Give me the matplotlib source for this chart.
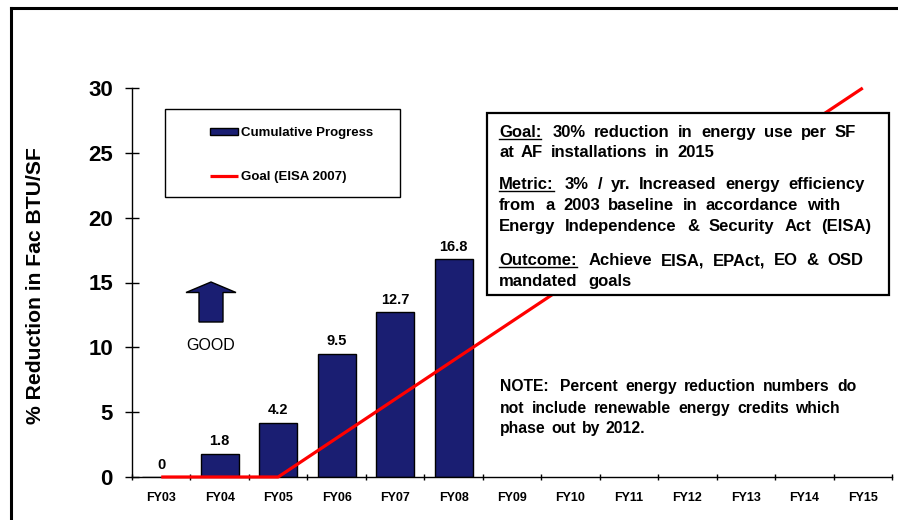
import matplotlib
matplotlib.use("Agg")
import matplotlib.pyplot as plt
from matplotlib.patches import Rectangle, Polygon
from matplotlib.lines import Line2D

plt.rcParams['font.family'] = 'Liberation Sans'

# ---- data ----
years = ["FY03", "FY04", "FY05", "FY06", "FY07", "FY08", "FY09",
         "FY10", "FY11", "FY12", "FY13", "FY14", "FY15"]
progress = [0, 1.8, 4.2, 9.5, 12.7, 16.8]
progress_labels = ["0", "1.8", "4.2", "9.5", "12.7", "16.8"]
goal = [0, 0, 0, 3, 6, 9, 12, 15, 18, 21, 24, 27, 30]
yticks = [0, 5, 10, 15, 20, 25, 30]

W, H = 898, 520
BAR_COLOR = "#1A1E72"
GOAL_COLOR = "#FF0000"

fig = plt.figure(figsize=(W / 100, H / 100), dpi=100)
fig.patch.set_facecolor("white")


def P(x, y):
    """page position in pixels (origin top-left) -> figure fraction"""
    return (x / W, 1 - y / H)


ax = fig.add_axes([132 / W, (H - 477) / H, (892 - 132) / W, (477 - 88) / H])
x = list(range(len(years)))

bars = ax.bar(x[:len(progress)], progress, width=0.65, color=BAR_COLOR,
              edgecolor="black", linewidth=1.0, label="Cumulative Progress", zorder=2)
line, = ax.plot(x, goal, color=GOAL_COLOR, linewidth=2.3, label="Goal (EISA 2007)",
                zorder=3, clip_on=False, solid_capstyle="butt")

for xi, v, lab in zip(x, progress, progress_labels):
    ax.annotate(lab, (xi, v), xytext=(0, 6), textcoords="offset points",
                ha="center", va="baseline", fontsize=10.5, fontweight="bold")

ax.set_xlim(-0.5, len(years) - 0.5)
ax.set_ylim(0, 30)
ax.set_yticks(yticks)
ax.set_yticklabels([str(v) for v in yticks], fontsize=16, fontweight="bold")
ax.tick_params(axis="y", direction="inout", length=9.4, width=1, pad=9)

ax.set_xticks([i - 0.5 for i in range(len(years) + 1)])
ax.set_xticklabels([])
ax.set_xticks(x, minor=True)
ax.set_xticklabels(years, minor=True, fontsize=9, fontweight="bold")
ax.tick_params(axis="x", which="major", direction="inout", length=5, width=1)
ax.tick_params(axis="x", which="minor", length=0, pad=11)

for s in ("top", "right"):
    ax.spines[s].set_visible(False)
for s in ("left", "bottom"):
    ax.spines[s].set_linewidth(1.0)

fig.text(*P(36, 286), "% Reduction in Fac BTU/SF", rotation=90, ha="center",
         va="center", fontsize=15.2, fontweight="bold")

# legend box
fig.add_artist(Rectangle(P(165, 197), (400 - 165) / W, (197 - 109) / H,
                         transform=fig.transFigure, facecolor="white",
                         edgecolor="black", linewidth=1.0, zorder=4))
leg = fig.legend(handles=[bars, line], loc="upper left",
                 bbox_to_anchor=P(210, 127), bbox_transform=fig.transFigure,
                 frameon=False, prop={"weight": "bold", "size": 9.5},
                 handlelength=2.1, handleheight=0.45, handletextpad=0.25,
                 borderpad=0, borderaxespad=0, labelspacing=2.4)
leg.set_zorder(5)

# goal / metric / outcome box
fig.add_artist(Rectangle(P(487, 295), (889 - 487) / W, (295 - 113) / H,
                         transform=fig.transFigure, facecolor="white",
                         edgecolor="black", linewidth=1.6, zorder=4))

renderer = fig.canvas.get_renderer()


def spread_line(words, x_left, x_right, y_base, size, underline_first=False,
                first_gap=1.0):
    """Lay out words on one baseline so the line runs from x_left to x_right."""
    texts = [fig.text(*P(x_left, y_base), w, fontsize=size, fontweight="bold",
                      va="baseline", ha="left", zorder=6) for w in words]
    widths = [t.get_window_extent(renderer).width for t in texts]
    weights = [first_gap] + [1.0] * (len(words) - 2)
    unit = (x_right - x_left - sum(widths)) / max(sum(weights), 1)
    cur = x_left
    for i, (t, w) in enumerate(zip(texts, widths)):
        t.set_x(round(cur) / W)
        if i == 0 and underline_first:
            fig.add_artist(Line2D([cur / W, (cur + w) / W],
                                  [1 - (y_base + 2) / H] * 2,
                                  transform=fig.transFigure, color="black",
                                  linewidth=1.0, zorder=6))
        if i < len(weights):
            cur += w + unit * weights[i]


box_lines = [
    ("Goal:", "30% reduction in energy use per SF", 856.5, 137),
    (None, "at AF installations in 2015", 714, 157),
    ("Metric:", "3% / yr. Increased energy efficiency", 864, 189),
    (None, "from a 2003 baseline in accordance with", 840.5, 210),
    (None, "Energy Independence & Security Act (EISA)", 871.5, 231),
    ("Outcome:", "Achieve EISA, EPAct, EO & OSD", 863, 265),
    (None, "mandated goals", 631.5, 286),
]
for head, rest, xr, yb in box_lines:
    words = ([head] if head else []) + rest.split()
    spread_line(words, 499, xr, yb, 12, underline_first=head is not None,
                first_gap=1.4 if head else 1.0)

note_lines = [
    ("NOTE:  Percent energy reduction numbers do", 856.5, 391, 1.5),
    ("not include renewable energy credits which", 840, 413, 1.0),
    ("phase out by 2012.", 645.5, 433, 1.0),
]
for txt, xr, yb, fg in note_lines:
    spread_line(txt.split(), 500, xr, yb, 11.3, first_gap=fg)

# "GOOD" arrow
arrow_pts = [(211, 282), (236, 292.5), (223, 292.5), (223, 322), (199, 322),
             (199, 292.5), (186, 292.5)]
fig.add_artist(Polygon([P(a, b) for a, b in arrow_pts], closed=True,
                       transform=fig.transFigure, facecolor=BAR_COLOR,
                       edgecolor="black", linewidth=1.0))
fig.text(*P(211, 346), "GOOD", fontsize=11.5, ha="center", va="center")

# page frame
fig.add_artist(Line2D([10.5 / W, 1.0], [1 - 7.5 / H, 1 - 7.5 / H],
                      transform=fig.transFigure, color="black", linewidth=2.2))
fig.add_artist(Line2D([10.5 / W, 10.5 / W], [1 - 7.5 / H, 0.0],
                      transform=fig.transFigure, color="black", linewidth=2.2))

fig.savefig("out.png", dpi=100, facecolor="white")
